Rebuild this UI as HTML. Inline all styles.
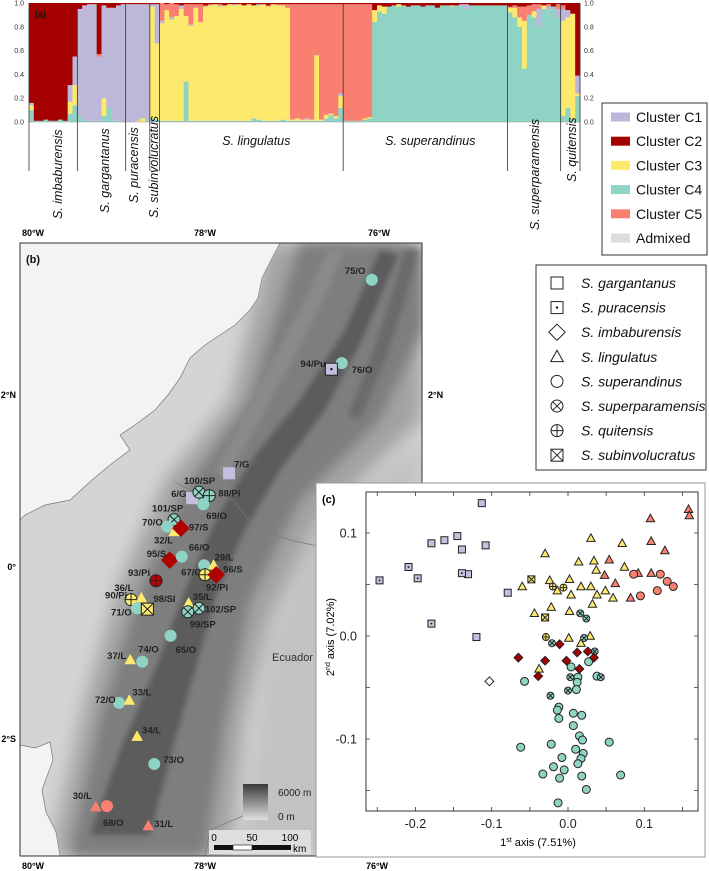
<!DOCTYPE html>
<html><head><meta charset="utf-8">
<style>
html,body{margin:0;padding:0;background:#fff;}
svg{display:block;font-family:"Liberation Sans",Arial,sans-serif;}
</style></head>
<body>
<svg id="fig" width="709" height="871" viewBox="0 0 709 871" xmlns="http://www.w3.org/2000/svg">
<defs>
<filter id="blur8" x="-20%" y="-20%" width="140%" height="140%"><feGaussianBlur stdDeviation="9"/></filter>
<filter id="blur6" x="-20%" y="-20%" width="140%" height="140%"><feGaussianBlur stdDeviation="6"/></filter>
<filter id="blur3" x="-20%" y="-20%" width="140%" height="140%"><feGaussianBlur stdDeviation="3"/></filter>
<clipPath id="mapclip"><rect x="20" y="243" width="402" height="613"/></clipPath>
<clipPath id="landclip"><path d="M280,243 L270,262 L262,278 L258,298 L250,310 L235,325 L205,345 L190,358 L180,378 L168,395 L155,410 L135,425 L120,435 L130,450 L110,465 L92,480 L70,500 L45,505 L25,515 L20,520 L20,745 L35,748 L50,742 L53,760 L42,790 L46,812 L56,832 L60,856 L422,856 L422,243 Z"/></clipPath>
<linearGradient id="elev" x1="0" y1="0" x2="0" y2="1"><stop offset="0" stop-color="#3a3a3a"/><stop offset="1" stop-color="#e0e0e0"/></linearGradient>
</defs>

<!-- MAP panel (b) -->
<g id="map">
<g clip-path="url(#mapclip)">
<rect x="20" y="243" width="402" height="613" fill="#f3f3f3"/>
<path fill="#d4d4d4" stroke="#777" stroke-width="0.7" d="M280,243 L270,262 L262,278 L258,298 L250,310 L235,325 L205,345 L190,358 L180,378 L168,395 L155,410 L135,425 L120,435 L130,450 L110,465 L92,480 L70,500 L45,505 L25,515 L20,520 L20,745 L35,748 L50,742 L53,760 L42,790 L46,812 L56,832 L60,856 L422,856 L422,243 Z"/>
<g clip-path="url(#landclip)">
<path fill="#c2c2c2" filter="url(#blur8)" d="M240,856 L422,856 L422,440 L320,520 L270,640 Z"/>
<path fill="#a2a2a2" filter="url(#blur8)" d="M50,856 L230,856 L245,720 L270,620 L320,520 L422,420 L422,243 L270,243 L230,400 L165,480 L120,580 L85,700 Z"/>
<path fill="#7e7e7e" filter="url(#blur6)" d="M70,856 L205,856 L225,720 L250,600 L300,500 L380,420 L422,330 L422,250 L395,243 L300,243 L250,400 L185,490 L140,590 L100,720 Z"/>
<path fill="#5c5c5c" filter="url(#blur3)" d="M90,835 L150,835 L175,740 L198,660 L218,590 L245,530 L280,470 L325,410 L362,340 L398,255 L380,250 L345,330 L300,400 L255,455 L218,515 L185,590 L155,670 L120,750 Z"/>
<path fill="#8a8a8a" filter="url(#blur3)" d="M225,480 L260,420 L295,355 L325,295 L345,250 L328,250 L305,300 L275,355 L245,415 L215,470 Z"/>
<path fill="#6a6a6a" filter="url(#blur3)" d="M360,420 L385,360 L405,300 L418,250 L405,250 L390,300 L370,360 L348,415 Z"/>
</g>
<path fill="none" stroke="#777" stroke-width="0.7" d="M175,482 L200,495 L233,500 L255,528 L290,540 L313,545 L360,550 L422,556"/>
<path fill="none" stroke="#777" stroke-width="0.7" d="M205,856 L210,830 L245,815 L260,800"/>
</g>
<rect x="20" y="243" width="402" height="613" fill="none" stroke="#333" stroke-width="1"/>
<text x="26" y="263" font-size="11" font-weight="bold" fill="#111">(b)</text>
<text x="33" y="236" font-size="9" font-weight="bold" text-anchor="middle">80°W</text>
<text x="205" y="236" font-size="9" font-weight="bold" text-anchor="middle">78°W</text>
<text x="379" y="236" font-size="9" font-weight="bold" text-anchor="middle">76°W</text>
<text x="33" y="869" font-size="9" font-weight="bold" text-anchor="middle">80°W</text>
<text x="205" y="869" font-size="9" font-weight="bold" text-anchor="middle">78°W</text>
<text x="377" y="869" font-size="9" font-weight="bold" text-anchor="middle">76°W</text>
<text x="16" y="398" font-size="9" font-weight="bold" text-anchor="end">2°N</text>
<text x="16" y="570" font-size="9" font-weight="bold" text-anchor="end">0°</text>
<text x="16" y="742" font-size="9" font-weight="bold" text-anchor="end">2°S</text>
<text x="428" y="398" font-size="9" font-weight="bold">2°N</text>
<text x="272" y="661" font-size="11" fill="#333">Ecuador</text>
<rect x="243" y="784" width="25" height="36" fill="url(#elev)"/>
<text x="278" y="796" font-size="10" fill="#222">6000 m</text>
<text x="278" y="820" font-size="10" fill="#222">0 m</text>
<g>
<rect x="209" y="830" width="102" height="24" fill="#dedede"/>
<text x="214" y="841" font-size="10" text-anchor="middle">0</text>
<text x="252" y="841" font-size="10" text-anchor="middle">50</text>
<text x="290" y="841" font-size="10" text-anchor="middle">100</text>
<rect x="214" y="845" width="19" height="5" fill="#111"/>
<rect x="233" y="845" width="19" height="5" fill="#fff" stroke="#111" stroke-width="0.6"/>
<rect x="252" y="845" width="39" height="5" fill="#111"/>
<text x="293" y="852" font-size="10">km</text>
</g>
<g id="sites"></g>
</g>

<!-- Bar chart (a) -->
<g id="bars"></g>
<text x="35" y="17" font-size="9" font-weight="bold" fill="#111">(a)</text>

<!-- Legend a -->
<g id="legendA">
<rect x="602" y="103" width="105" height="152" fill="#fff" stroke="#333" stroke-width="1"/>
</g>
<!-- Legend b -->
<g id="legendB">
<rect x="536" y="265" width="170" height="205" fill="#fff" stroke="#333" stroke-width="1"/>
</g>

<!-- PCA (c) -->
<g id="pca">
<rect x="316" y="483" width="389" height="374" fill="#fff" stroke="#999" stroke-width="1"/>
<rect x="366" y="492" width="332" height="319" fill="#fff" stroke="#333" stroke-width="1"/>
<text x="322" y="503" font-size="11" font-weight="bold">(c)</text>
<text x="538" y="846" font-size="11" text-anchor="middle">1<tspan font-size="7" dy="-4">st</tspan><tspan dy="4"> axis (7.51%)</tspan></text>
<text transform="translate(334,637) rotate(-90)" font-size="11" text-anchor="middle">2<tspan font-size="7" dy="-4">nd</tspan><tspan dy="4"> axis  (7.02%)</tspan></text>
</g>
</svg>

<script>
const NS='http://www.w3.org/2000/svg';
function mk(tag, attrs, parent){const e=document.createElementNS(NS,tag);for(const k in attrs)e.setAttribute(k,attrs[k]);parent.appendChild(e);return e;}

/* ---------- Admixture bar chart data ---------- */
const clusterNames=['Cluster C1','Cluster C2','Cluster C3','Cluster C4','Cluster C5','Admixed'];
const clusterColors=['#bdb8d9','#a50000','#fde96c','#8ed3c4','#f98071','#dcdcdc'];
const stackOrder=[3,2,0,4,1]; // C4,C3,C1,C5,C2 bottom to top
// each row: [C4, C3, C1, C5, C2]
const admix=[
[.10,.04,.02,0,.84],[.01,0,0,0,.99],[.01,0,0,0,.99],[.02,0,0,0,.98],[.01,0,0,0,.99],[.01,0,0,0,.99],[.02,0,0,0,.98],[.01,0,0,0,.99],[.07,.10,.14,0,.69],[.14,.17,.24,0,.45],
[.05,0,.90,0,.05],[.02,0,.96,0,.02],[.01,0,.98,0,.01],[0,0,.99,0,.01],[.01,0,.54,.02,.43],[.05,.15,.78,0,.02],[.12,0,.84,0,.04],[.01,0,.95,0,.04],[.01,0,.97,0,.02],[0,0,.99,0,.01],
[0,0,.99,0,.01],[0,0,.99,0,.01],[0,.01,.98,0,.01],[0,.03,.96,0,.01],[.01,0,.98,0,.01],
[.03,.94,.02,0,.01],[.02,.64,.33,0,.01],
[.01,.82,.02,.15,0],[.01,.93,0,.05,.01],[.01,.85,.02,.12,0],[.01,.88,0,.10,.01],[.01,.94,.03,0,.02],[.34,.55,0,.10,.01],[.01,.80,.01,.17,.01],[.01,.95,0,.03,.01],[.01,.83,0,.15,.01],[.01,.96,0,.01,.02],
[.01,.97,0,.01,.01],[.01,.98,0,0,.01],[.01,.96,.01,.01,.01],[.01,.97,0,0,.02],[.01,.98,0,0,.01],[.01,.97,.01,0,.01],[.01,.98,0,0,.01],[.01,.97,0,0,.02],[.01,.98,0,0,.01],[.03,.95,0,0,.02],[.02,.96,.01,0,.01],[.01,.98,0,0,.01],[.01,.96,0,.01,.02],[.01,.98,0,0,.01],[.01,.97,0,.01,.01],[.02,.96,0,.01,.01],[.01,.95,0,.03,.01],
[.01,.01,0,.97,.01],[.01,.02,0,.96,.01],[.01,.01,0,.97,.01],[.01,.01,.01,.96,.01],[.01,.01,0,.97,.01],[.01,.55,0,.43,.01],[.01,.01,0,.97,.01],[.03,.03,0,.93,.01],[.06,.01,0,.92,.01],[.03,.02,0,.94,.01],[.12,.10,.02,.75,.01],
[.01,0,0,.98,.01],[.01,0,0,.98,.01],[.01,0,0,.98,.01],[.01,0,0,.98,.01],[.02,.01,0,.96,.01],[.03,.01,0,.95,.01],
[.84,.10,0,0,.06],[.93,.05,0,0,.02],[.91,.06,0,0,.03],[.97,0,0,0,.03],[.98,0,0,0,.02],[.97,.02,0,0,.01],[.98,0,0,0,.02],[.97,0,0,0,.03],[.98,0,0,0,.02],[.98,0,0,0,.02],[.97,0,0,0,.03],[.98,0,0,0,.02],[.98,0,0,0,.02],[.96,0,0,0,.04],[.98,0,0,0,.02],[.98,0,0,0,.02],[.97,.01,0,0,.02],[.98,0,0,0,.02],[.97,0,.02,0,.01],[.95,0,.04,0,.01],[.98,0,0,0,.02],[.98,0,0,0,.02],[.98,0,0,0,.02],[.98,0,0,0,.02],[.98,0,0,0,.02],[.98,0,0,0,.02],[.98,0,0,0,.02],[.98,0,0,0,.02],
[.92,.04,0,.01,.03],[.88,.08,0,.02,.02],[.80,.08,0,.09,.03],[.45,.40,0,.12,.03],[.90,0,0,.08,.02],[.88,.05,0,.06,.01],[.80,0,.15,.04,.01],[.95,.03,0,0,.02],[.94,0,.03,.02,.01],[.97,0,0,0,.03],[.88,0,.07,.04,.01],
[.05,.80,.10,.03,.02],[.12,.76,.06,0,.06],[.03,.88,0,0,.09],[.22,.02,.15,0,.61]
];
const speciesBounds=[0,10,20,25,27,65,99,110,114];
const speciesLabels=['S. imbaburensis','S. gargantanus','S. puracensis','S. subinvolucratus','S. lingulatus','S. superandinus','S. superparamensis','S. quitensis'];
const yTicks=[0,0.2,0.4,0.6,0.8,1.0];
const yTickLabels=['0.0','0.2','0.4','0.6','0.8','1.0'];

const barG=document.getElementById('bars');
const BX0=29,BX1=580,BT=3,BB=122;
function xBar(i){return BX0+i*(BX1-BX0)/admix.length;}
function yBar(v){return BB-v*(BB-BT);}
admix.forEach((row,i)=>{
  const sum=row.reduce((a,b)=>a+b,0);
  let cum=0;
  row.forEach((v,k)=>{
    if(v<=0)return;
    const y0=yBar((cum+v)/sum), y1=yBar(cum/sum);
    const r=mk('rect',{x:xBar(i).toFixed(2),y:y0.toFixed(2),width:(xBar(i+1)-xBar(i)+0.3).toFixed(2),height:(y1-y0).toFixed(2),fill:clusterColors[stackOrder[k]]},barG);
    
    
    cum+=v;
  });
});
yTicks.forEach((t,i)=>{
  const l=mk('text',{x:24,y:yBar(t)+2.5,'font-size':7,'text-anchor':'end',fill:'#333'},barG);
  l.textContent=yTickLabels[i];
  
  
  const r=mk('text',{x:584,y:yBar(t)+2.5,'font-size':7,fill:'#333'},barG);
  r.textContent=yTickLabels[i];
  
  
});
const bl=mk('line',{x1:BX0,x2:BX1,y1:BB,y2:BB,stroke:'#999','stroke-width':0.6},barG);


speciesBounds.forEach(b=>{
  const x=xBar(b);
  const l=mk('line',{x1:x,x2:x,y1:BT,y2:171,stroke:'#333','stroke-width':0.8},barG);
  
  
});
const rotatedPos={0:[62,219],1:[109,213],2:[138,203],3:[158,218],6:[539,230],7:[576,182]};
speciesLabels.forEach((s,i)=>{
  let t;
  if(rotatedPos[i]){
    const p=rotatedPos[i];
    t=mk('text',{transform:`translate(${p[0]},${p[1]}) rotate(-90)`,'font-size':12.5,'font-style':'italic',fill:'#111'},barG);
  } else {
    const cx=(xBar(speciesBounds[i])+xBar(speciesBounds[i+1]))/2;
    t=mk('text',{x:cx+5,y:145,'font-size':12.5,'font-style':'italic','text-anchor':'middle',fill:'#111'},barG);
  }
  t.textContent=s;
  
  
});

/* legend a */
const legA=document.getElementById('legendA');
clusterNames.forEach((n,i)=>{
  const y=117+i*24.2;
  const sw=mk('rect',{x:611,y:y-4.5,width:19,height:9,fill:clusterColors[i]},legA);
  
  
  const t=mk('text',{x:636,y:y+5,'font-size':14,fill:'#111'},legA);
  t.textContent=n;
  
  
});

/* marker drawing */
function marker(shape,cx,cy,s,fill,stroke,sw,parent){
  const g=mk('g',{},parent);
  const h=s/2;
  const st={fill:fill,stroke:stroke||'none','stroke-width':sw||0};
  if(shape==='square'||shape==='squareDot'||shape==='squareX'){
    mk('rect',Object.assign({x:cx-h,y:cy-h,width:s,height:s},st),g);
    if(shape==='squareDot')mk('circle',{cx:cx,cy:cy,r:Math.max(0.9,s*0.1),fill:'#111'},g);
    if(shape==='squareX'){mk('path',{d:`M${cx-h},${cy-h}L${cx+h},${cy+h}M${cx+h},${cy-h}L${cx-h},${cy+h}`,stroke:stroke||'#111','stroke-width':sw||1,fill:'none'},g);}
  } else if(shape==='diamond'){
    const d=h*1.25;
    mk('path',Object.assign({d:`M${cx},${cy-d}L${cx+d},${cy}L${cx},${cy+d}L${cx-d},${cy}Z`},st),g);
  } else if(shape==='triangle'){
    mk('path',Object.assign({d:`M${cx},${cy-h*1.1}L${cx+h*1.05},${cy+h*0.8}L${cx-h*1.05},${cy+h*0.8}Z`},st),g);
  } else {
    mk('circle',Object.assign({cx:cx,cy:cy,r:h},st),g);
    const k=h*0.7;
    if(shape==='circleX')mk('path',{d:`M${cx-k},${cy-k}L${cx+k},${cy+k}M${cx+k},${cy-k}L${cx-k},${cy+k}`,stroke:stroke||'#111','stroke-width':sw||1,fill:'none'},g);
    if(shape==='circlePlus')mk('path',{d:`M${cx-h},${cy}L${cx+h},${cy}M${cx},${cy-h}L${cx},${cy+h}`,stroke:stroke||'#111','stroke-width':sw||1,fill:'none'},g);
  }
  return g;
}

/* legend b */
const legB=document.getElementById('legendB');
const legBShapes=['square','squareDot','diamond','triangle','circle','circleX','circlePlus','squareX'];
const legBNames=['S. gargantanus','S. puracensis','S. imbaburensis','S. lingulatus','S. superandinus','S. superparamensis','S. quitensis','S. subinvolucratus'];
legBNames.forEach((n,i)=>{
  const y=283+i*24.6;
  const m=marker(legBShapes[i],557,y,legBShapes[i]==='diamond'?13:12,'#fff','#222',1,legB);
  
  
  const t=mk('text',{x:581,y:y+5,'font-size':14,'font-style':'italic',fill:'#111'},legB);
  t.textContent=n;
  
  
});

/* map sites */
const C={G:'#c3bfdd',O:'#8ed3c4',L:'#fde96c',S:'#b00000',R:'#f98071',Rd:'#c00000'};
const siteLabels=['7/G','6/G','100/SP','88/Pi','69/O','101/SP','70/O','32/L','97/S','95/S','66/O','67/O','29/L','92/Pi','96/S','93/Pi','90/Pi','36/L','71/O','98/SI','35/L','102/SP','99/SP','65/O','74/O','37/L','72/O','33/L','34/L','73/O','30/L','68/O','31/L','75/O','76/O','94/Pu'];
const siteLon=[-77.72,-78.15,-78.07,-77.95,-78.02,-78.36,-78.44,-78.36,-78.28,-78.41,-78.27,-78.01,-77.90,-78.00,-77.87,-78.57,-78.86,-78.74,-78.79,-78.67,-78.19,-78.07,-78.20,-78.40,-78.73,-78.87,-79.00,-78.88,-78.79,-78.59,-79.27,-79.14,-78.66,-76.06,-76.41,-76.53];
const siteLat=[1.09,0.80,0.87,0.83,0.73,0.55,0.47,0.41,0.45,0.08,0.12,0.02,0.02,-0.09,-0.09,-0.16,-0.38,-0.36,-0.48,-0.49,-0.42,-0.48,-0.52,-0.80,-1.10,-1.08,-1.58,-1.55,-1.97,-2.29,-2.79,-2.78,-3.01,3.34,2.37,2.30];
const siteShape=['square','square','circleX','circlePlus','circle','circleX','circle','triangle','diamond','diamond','circle','circle','triangle','circlePlus','diamond','circlePlus','circlePlus','triangle','circle','squareX','triangle','circleX','circleX','circle','circle','triangle','circle','triangle','triangle','circle','triangle','circle','triangle','circle','circle','squareDot'];
const siteColor=['G','G','O','O','O','O','O','L','S','S','O','O','L','L','S','Rd','L','L','O','L','L','O','O','O','O','L','O','L','L','O','R','R','R','O','O','G'];
const labelOffsets=[[5,-6],[-21,-1],[-15,-8],[9,1],[3,15],[-22,-8],[-25,-1],[-20,12],[8,2],[-23,-3],[7,-6],[-23,10],[1,-5],[1,16],[7,-2],[-28,-5],[-26,-1],[-27,-7],[-26,7],[6,-7],[4,-3],[6,4],[2,16],[5,17],[-4,-9],[-23,-1],[-24,0],[3,-5],[5,-3],[9,-1],[-23,-8],[-4,20],[6,1],[-27,-6],[10,10],[-31,-2]];
const siteG=document.getElementById('sites');
function mx(lon){return 33+(lon+80)*86;}
function my(lat){return 567-lat*86;}
siteLabels.forEach((lab,i)=>{
  const x=mx(siteLon[i]),y=my(siteLat[i]);
  const sh=siteShape[i];
  const crossed=(sh==='circleX'||sh==='circlePlus'||sh==='squareX'||sh==='squareDot');
  const size=sh==='diamond'?14:(sh==='triangle'?11:12);
  const m=marker(sh,x,y,size,C[siteColor[i]],crossed?'#222':'none',crossed?1:0,siteG);
  
  
  const t=mk('text',{x:x+labelOffsets[i][0],y:y+labelOffsets[i][1],'font-size':9.5,'font-weight':'bold',fill:'#222'},siteG);
  t.textContent=lab;
  
  
});

/* ---------- PCA data ---------- */
const xTicks=[-0.2,-0.1,0.0,0.1];
const xTickLabels=['-0.2','-0.1','0.0','0.1'];
const pcaYTicks=[0.1,0.0,-0.1];
const pcaYTickLabels=['0.1','0.0','-0.1'];
const gargX=[-0.113,-0.179,-0.162,-0.145,-0.139,-0.108,-0.079,-0.12,-0.131];
const gargY=[0.129,0.09,0.093,0.097,0.084,0.088,0.042,-0.001,0.06];
const puraX=[-0.247,-0.209,-0.197,-0.139,-0.179];
const puraY=[0.054,0.067,0.056,0.061,0.012];
const imbWhiteX=[-0.103];
const imbWhiteY=[-0.044];
const imbX=[-0.065,-0.039,-0.03,-0.011,-0.002,0.012,0.015,0.026,0.034];
const imbY=[-0.021,-0.039,-0.024,-0.008,-0.024,-0.016,-0.032,-0.015,-0.021];
const subX=[-0.048,-0.03];
const subY=[0.055,0.018];
const quitX=[-0.02,-0.006,-0.029];
const quitY=[0.048,0.047,-0.001];
const lingX=[-0.06,-0.03,-0.024,-0.014,0.002,0.004,-0.044,-0.022,0.002,0.03,0.014,0.034,0.037,0.03,0.017,0.038,0.049,0.032,0.059,0.071,0.074,0.001,0.029,0.017,-0.038];
const lingY=[0.048,0.08,0.054,0.044,0.055,0.04,0.022,0.028,0.024,0.095,0.072,0.073,0.064,0.048,0.048,0.04,0.044,0.031,0.037,0.09,0.067,-0.002,0,-0.007,-0.032];
const lingSalX=[0.108,0.109,0.127,0.158,0.159,0.054,0.048,0.062,0.082,0.092,0.109];
const lingSalY=[0.114,0.092,0.083,0.123,0.117,0.074,0.059,0.051,0.037,0.061,0.061];
const supSalX=[0.086,0.095,0.121,0.13,0.138,0.117];
const supSalY=[0.06,0.039,0.06,0.053,0.048,0.044];
const sparX=[0.016,0.024,0.021,-0.021,0.035,0.003,0.043,0,-0.023];
const sparY=[0.022,0.017,-0.002,-0.007,-0.015,-0.04,-0.04,-0.053,-0.058];
const supX=[-0.057,0.004,0.013,0.012,0.027,0.038,0.011,-0.012,-0.014,-0.012,0.007,0.018,0.007,0.015,0.019,-0.062,-0.022,0.01,0.054,0.02,0.017,-0.008,0.013,-0.019,-0.033,-0.005,-0.011,0.018,0.069,0.024,-0.013];
const supY=[-0.044,-0.03,-0.04,-0.045,-0.025,-0.039,-0.052,-0.069,-0.072,-0.08,-0.075,-0.077,-0.087,-0.097,-0.101,-0.108,-0.105,-0.11,-0.103,-0.114,-0.119,-0.118,-0.124,-0.127,-0.134,-0.13,-0.138,-0.136,-0.135,-0.149,-0.162];

const pcaG=document.getElementById('pca');
function xP(v){return 568+v*763;}
function yP(v){return 636-v*1030;}
for(let k=-5;k<=3;k++){
  const v=k*0.05, x=xP(v);
  if(x<366||x>698)continue;
  const a=mk('path',{d:`M${x},492v4M${x},811v-4`,stroke:'#333','stroke-width':0.8},pcaG);
  
  
}
for(let k=-3;k<=2;k++){
  const v=k*0.05, y=yP(v);
  if(y<492||y>811)continue;
  const a=mk('path',{d:`M366,${y}h4M698,${y}h-4`,stroke:'#333','stroke-width':0.8},pcaG);
  
  
}
xTicks.forEach((v,i)=>{
  const t=mk('text',{x:xP(v),y:828,'font-size':12.5,'text-anchor':'middle',fill:'#222'},pcaG);
  t.textContent=xTickLabels[i];
  
  
});
pcaYTicks.forEach((v,i)=>{
  const t=mk('text',{x:357,y:yP(v)+4.5,'font-size':12.5,'text-anchor':'end',fill:'#222'},pcaG);
  t.textContent=pcaYTickLabels[i];
  
  
});
function series(xs,ys,shape,size,fill,name){
  xs.forEach((v,i)=>{
    const m=marker(shape,xP(v),yP(ys[i]),size,fill,'#222',1,pcaG);
    
    
  });
}
series(lingX,lingY,'triangle',8,'#fde96c','point-lingulatus');
series(lingSalX,lingSalY,'triangle',8,'#f98071','point-lingulatus-c5');
series(supSalX,supSalY,'circle',8,'#f98071','point-superandinus-c5');
series(supX,supY,'circle',8,'#8ed3c4','point-superandinus');
series(sparX,sparY,'circleX',7,'#8ed3c4','point-superparamensis');
series(imbX,imbY,'diamond',7,'#a50000','point-imbaburensis');
series(imbWhiteX,imbWhiteY,'diamond',7,'#fff','point-imbaburensis-open');
series(gargX,gargY,'square',7,'#c3bfdd','point-gargantanus');
series(puraX,puraY,'squareDot',7,'#c3bfdd','point-puracensis');
series(subX,subY,'squareX',7,'#fde96c','point-subinvolucratus');
series(quitX,quitY,'circlePlus',7,'#fde96c','point-quitensis');
</script>
</body></html>
